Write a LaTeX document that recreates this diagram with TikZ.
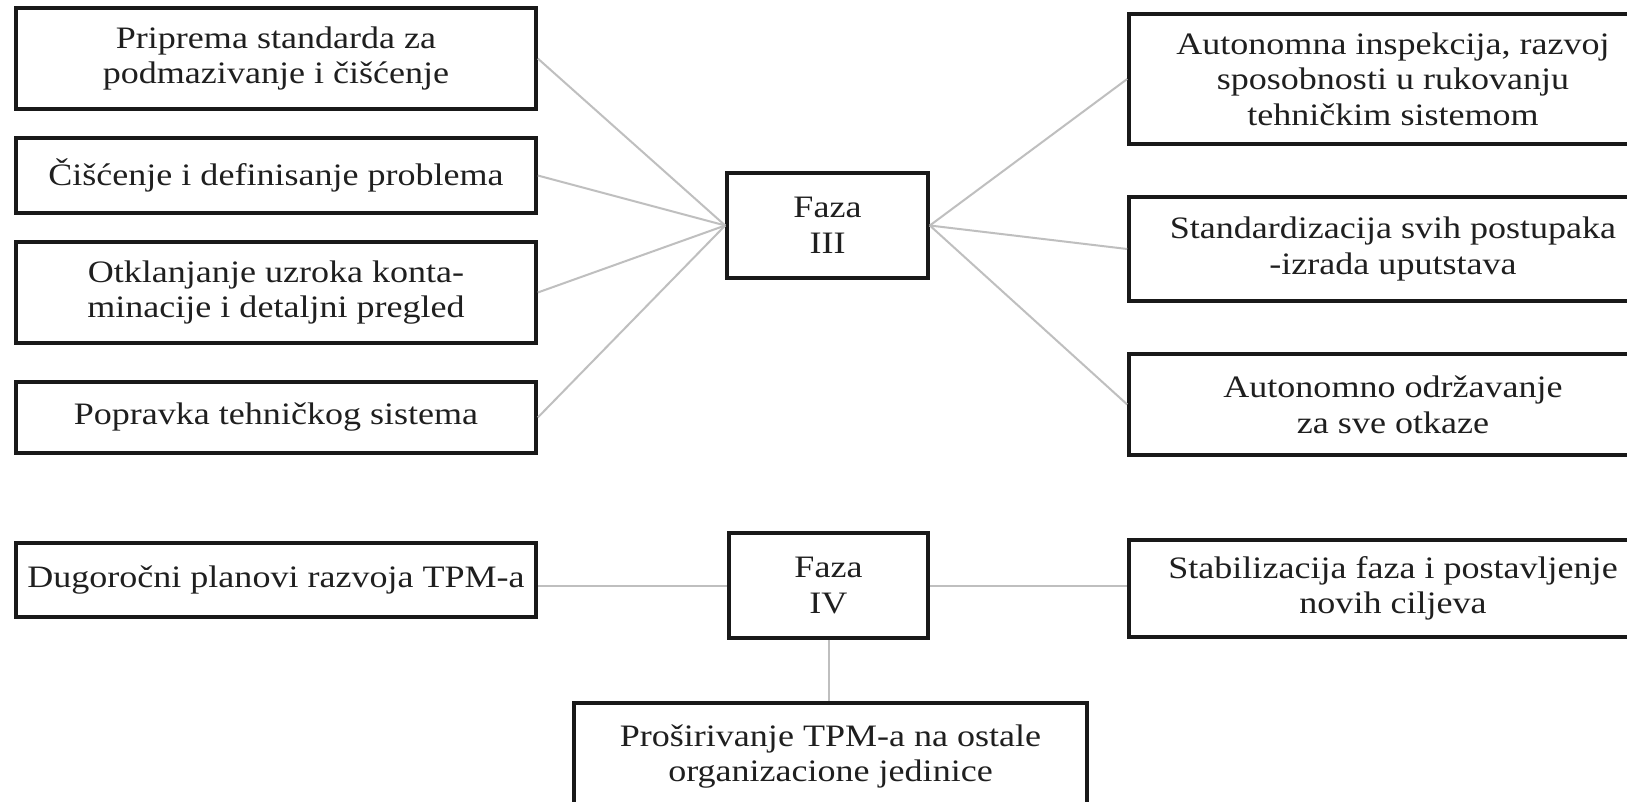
\documentclass[tikz,border=0pt]{standalone}
\usepackage{fontspec}
\setmainfont{Liberation Serif}[FakeStretch=1.155]
\begin{document}
\begin{tikzpicture}[x=0.5pt, y=-0.5pt,
  box/.style={draw=black!90, line width=1.8pt, align=center, inner sep=0pt,
    text=black!88, font=\fontsize{15.6pt}{17.8pt}\selectfont},
  link/.style={draw=black!25, line width=1pt}]
% page frame and clipping of the boxes running past the edges
\clip (0,0) rectangle (1627,802);
\fill[white] (0,0) rectangle (1627,802);

% Faza III and its activities
\node[box, minimum width=260pt, minimum height=50.5pt] (l1) at (276,58.5)
  {Priprema standarda za\\ podmazivanje i čišćenje};
\node[box, minimum width=260pt, minimum height=37.5pt] (l2) at (276,175.5)
  {Čišćenje i definisanje problema};
\node[box, minimum width=260pt, minimum height=50.5pt] (l3) at (276,292.5)
  {Otklanjanje uzroka konta-\\minacije i detaljni pregled};
\node[box, minimum width=260pt, minimum height=35.5pt] (l4) at (276,417.5)
  {Popravka tehničkog sistema};
\node[box, minimum width=100.5pt, minimum height=52.5pt] (f3) at (827.5,225.5)
  {Faza\\ III};
\node[box, minimum width=264pt, minimum height=65pt] (r1) at (1393,79)
  {Autonomna inspekcija, razvoj\\ sposobnosti u rukovanju\\ tehničkim sistemom};
\node[box, minimum width=264pt, minimum height=52pt] (r2) at (1393,249)
  {Standardizacija svih postupaka\\ -izrada uputstava};
\node[box, minimum width=264pt, minimum height=50.5pt] (r3) at (1393,404.5)
  {Autonomno održavanje\\ za sve otkaze};

% Faza IV and its activities
\node[box, minimum width=260pt, minimum height=37pt] (d) at (276,580)
  {Dugoročni planovi razvoja TPM-a};
\node[box, minimum width=99.5pt, minimum height=52.5pt] (f4) at (828.5,585.5)
  {Faza\\ IV};
\node[box, minimum width=264pt, minimum height=48.5pt] (s) at (1393,588.5)
  {Stabilizacija faza i postavljenje\\ novih ciljeva};
\node[box, minimum width=256.5pt, minimum height=53.5pt] (p) at (830.5,756.5)
  {Proširivanje TPM-a na ostale\\ organizacione jedinice};

% connectors
\foreach \n in {l1,l2,l3,l4} \draw[link] (\n.east) -- (f3.west);
\foreach \n in {r1,r2,r3} \draw[link] (f3.east) -- (\n.west);
\draw[link] (f4.west) -- (f4.west -| d.east);
\draw[link] (f4.east) -- (f4.east -| s.west);
\draw[link] (f4.south) -- (f4.south |- p.north);
\end{tikzpicture}
\end{document}
